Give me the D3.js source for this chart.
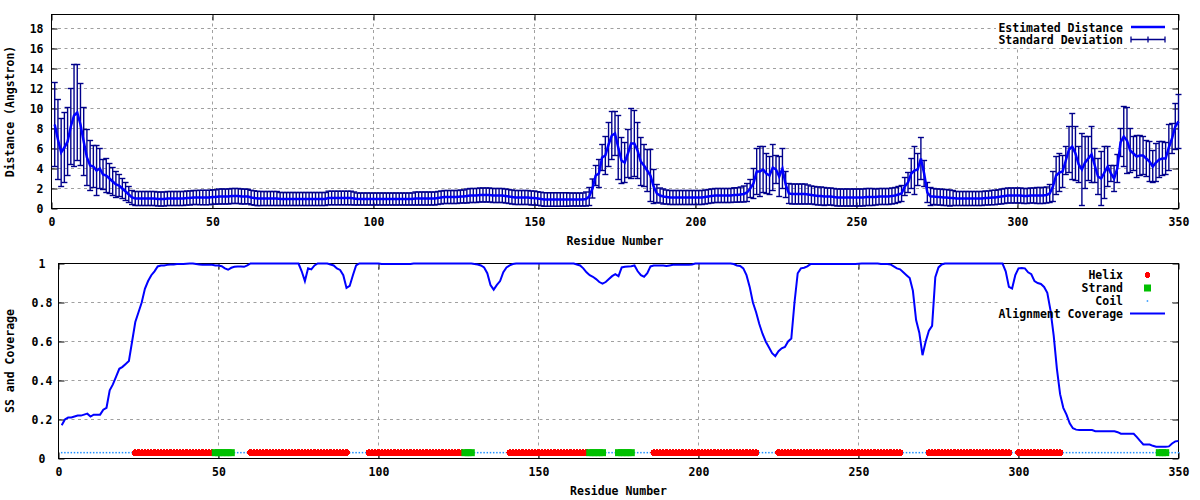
<!DOCTYPE html>
<html><head><meta charset="utf-8">
<script src="https://cdn.jsdelivr.net/npm/d3@7"></script>
<style>
body{margin:0;background:#fff}
svg text{font-family:"DejaVu Sans Mono",monospace;font-weight:bold;font-size:11.5px;fill:#000}
</style>
</head><body>
<svg id="c" width="1200" height="500"></svg>
<script>
const xTicks = [0, 50, 100, 150, 200, 250, 300, 350];
const distYTicks = [0, 2, 4, 6, 8, 10, 12, 14, 16, 18];
const covYTicks = [0, 0.2, 0.4, 0.6, 0.8, 1];
const covYTickLabels = ["0", "0.2", "0.4", "0.6", "0.8", "1"];
const xTitle = "Residue Number";
const distTitle = "Distance (Angstron)";
const covTitle = "SS and Coverage";
const topLegend = ["Estimated Distance", "Standard Deviation"];
const bottomLegend = ["Helix", "Strand", "Coil", "Alignment Coverage"];

// estimated distance per residue 1..350
const distance = [
8.4,6.9,5.6,6.1,6.7,8.2,9.3,9.6,8.4,6.7,
5.1,4.3,4.2,3.8,4.0,3.4,3.3,3.0,2.7,2.4,
2.3,2.0,1.7,1.4,1.1,1.0,1.0,1.0,1.0,1.0,
1.0,1.0,0.95,0.95,0.95,1.0,1.0,1.0,1.0,1.0,
1.0,1.05,1.05,1.1,1.1,1.1,1.1,1.1,1.1,1.15,
1.15,1.2,1.2,1.2,1.2,1.25,1.25,1.25,1.2,1.2,
1.2,1.1,1.05,1.0,1.0,1.0,1.0,1.0,1.0,1.0,
0.95,0.95,0.95,0.95,0.95,0.95,0.95,0.95,0.95,0.95,
0.95,0.95,0.95,0.95,0.95,1.05,1.05,1.05,1.05,1.05,
1.05,1.05,1.05,1.0,0.95,0.95,0.95,0.95,0.95,0.95,
0.95,0.95,0.95,0.95,0.95,0.95,0.95,0.95,0.95,0.95,
0.95,0.95,1.0,1.0,1.0,1.0,1.0,1.0,1.0,1.05,
1.1,1.15,1.15,1.15,1.15,1.15,1.2,1.2,1.25,1.3,
1.3,1.3,1.35,1.35,1.35,1.35,1.3,1.3,1.3,1.3,
1.25,1.2,1.15,1.1,1.1,1.1,1.1,1.1,1.05,1.05,
1.0,0.95,0.9,0.9,0.9,0.9,0.9,0.9,0.9,0.9,
0.9,0.9,0.9,0.9,0.9,0.95,1.2,2.0,3.3,3.5,
5.1,5.3,6.4,7.3,7.5,6.1,4.8,4.6,5.5,6.5,
6.5,5.8,4.7,4.3,3.8,3.3,2.2,1.5,1.3,1.2,
1.15,1.1,1.1,1.1,1.1,1.1,1.1,1.1,1.1,1.1,
1.1,1.1,1.15,1.2,1.25,1.3,1.3,1.3,1.3,1.3,
1.3,1.35,1.35,1.4,1.45,1.6,2.0,2.5,3.7,3.7,
3.9,3.5,3.3,4.1,3.9,3.2,4.0,2.4,1.5,1.45,
1.45,1.45,1.45,1.45,1.4,1.35,1.3,1.25,1.25,1.2,
1.2,1.2,1.15,1.1,1.1,1.1,1.1,1.1,1.1,1.1,
1.1,1.1,1.15,1.15,1.15,1.15,1.2,1.2,1.2,1.2,
1.25,1.3,1.4,1.5,2.2,2.6,3.5,3.8,3.9,5.0,
3.5,1.6,1.2,1.2,1.15,1.15,1.1,1.1,1.05,1.05,
1.0,1.0,1.0,1.0,1.0,1.0,1.0,1.0,1.0,1.05,
1.05,1.1,1.1,1.15,1.2,1.25,1.3,1.3,1.3,1.3,
1.3,1.25,1.25,1.3,1.3,1.3,1.3,1.3,1.35,1.5,
2.2,3.3,3.6,3.7,4.8,5.9,6.2,5.5,4.4,3.9,
4.6,5.0,5.4,4.3,3.2,3.0,3.6,4.2,3.5,3.0,
4.0,6.6,7.2,6.8,5.8,5.5,5.2,5.3,5.3,5.0,
4.7,4.2,4.6,4.9,5.0,5.0,6.1,7.0,8.2,8.7
];

// standard deviation per residue 1..350
const stdDev = [
4.2,4.0,3.4,3.5,3.4,3.8,5.1,4.8,4.1,3.4,
2.8,2.5,2.1,2.5,2.0,1.5,1.7,1.5,1.4,1.3,
1.1,1.0,0.9,0.8,0.7,0.7,0.7,0.7,0.7,0.7,
0.7,0.7,0.7,0.7,0.7,0.7,0.7,0.7,0.7,0.7,
0.7,0.7,0.7,0.7,0.7,0.72,0.72,0.72,0.72,0.72,
0.72,0.75,0.75,0.75,0.75,0.75,0.75,0.75,0.75,0.75,
0.72,0.72,0.72,0.72,0.7,0.7,0.7,0.7,0.7,0.7,
0.65,0.65,0.65,0.65,0.65,0.65,0.65,0.65,0.65,0.65,
0.65,0.65,0.65,0.65,0.65,0.68,0.68,0.68,0.68,0.68,
0.68,0.68,0.68,0.65,0.6,0.6,0.6,0.6,0.6,0.6,
0.6,0.6,0.6,0.6,0.6,0.6,0.6,0.6,0.6,0.6,
0.6,0.6,0.65,0.65,0.65,0.65,0.65,0.65,0.65,0.65,
0.65,0.65,0.65,0.65,0.65,0.65,0.65,0.65,0.7,0.7,
0.7,0.7,0.7,0.7,0.7,0.7,0.7,0.7,0.7,0.7,
0.7,0.7,0.7,0.7,0.7,0.7,0.7,0.7,0.7,0.7,
0.68,0.68,0.68,0.68,0.68,0.68,0.68,0.68,0.68,0.68,
0.65,0.65,0.65,0.65,0.65,0.7,0.9,0.95,1.0,1.4,
1.3,1.9,2.2,2.4,2.2,3.2,2.3,2.0,2.4,3.5,
3.3,2.8,2.4,2.1,2.1,2.6,1.7,0.9,0.75,0.75,
0.7,0.7,0.7,0.7,0.7,0.7,0.7,0.7,0.7,0.7,
0.7,0.7,0.7,0.7,0.7,0.7,0.7,0.7,0.7,0.7,
0.7,0.72,0.72,0.75,0.8,0.9,0.9,1.5,2.3,2.5,
2.3,2.0,1.9,2.3,1.4,2.0,2.0,1.3,1.0,1.0,
1.0,1.0,1.0,1.0,0.95,0.9,0.9,0.9,0.9,0.9,
0.85,0.85,0.85,0.85,0.85,0.85,0.85,0.85,0.85,0.85,
0.85,0.85,0.85,0.85,0.85,0.8,0.8,0.8,0.8,0.8,
0.8,0.8,0.8,0.8,0.9,1.0,1.5,2.4,1.6,2.1,
1.3,1.0,0.9,0.8,0.8,0.8,0.8,0.8,0.8,0.75,
0.7,0.7,0.7,0.7,0.7,0.7,0.7,0.7,0.7,0.7,
0.7,0.72,0.72,0.72,0.75,0.75,0.75,0.75,0.75,0.75,
0.75,0.75,0.75,0.75,0.75,0.8,0.8,0.8,0.8,0.9,
1.5,1.9,1.9,1.6,1.4,2.3,3.3,2.7,1.8,3.6,
2.6,2.2,2.8,1.7,1.8,2.7,2.6,2.0,0.8,1.3,
1.4,1.4,3.0,3.3,2.2,1.7,2.1,2.0,1.9,1.8,
2.0,1.6,1.9,1.8,1.7,1.6,2.3,1.5,2.3,2.7
];

// alignment coverage per residue 1..350
const coverage = [
0.17,0.20,0.21,0.21,0.215,0.22,0.22,0.225,0.23,0.215,
0.225,0.225,0.225,0.25,0.26,0.35,0.38,0.42,0.46,0.47,
0.485,0.50,0.60,0.70,0.75,0.80,0.87,0.91,0.94,0.96,
0.985,0.99,0.99,0.993,0.995,0.995,0.997,0.997,0.998,0.999,
1.0,1.0,0.997,0.995,0.993,0.993,0.993,0.993,0.99,0.99,
0.986,0.975,0.968,0.978,0.983,0.985,0.985,0.983,0.99,1.0,
1.0,1.0,1.0,1.0,1.0,1.0,1.0,1.0,1.0,1.0,
1.0,1.0,1.0,1.0,1.0,0.96,0.91,0.975,0.97,0.99,
1.0,1.0,1.0,1.0,0.995,0.99,0.975,0.967,0.94,0.875,
0.885,0.94,0.99,1.0,1.0,1.0,1.0,1.0,1.0,1.0,
0.997,0.997,0.997,0.997,0.997,0.997,0.997,0.997,0.997,0.997,
1.0,1.0,1.0,1.0,1.0,1.0,1.0,1.0,1.0,1.0,
1.0,1.0,1.0,1.0,1.0,1.0,1.0,1.0,1.0,0.997,
0.995,0.99,0.98,0.95,0.89,0.866,0.89,0.91,0.955,0.98,
0.99,0.997,1.0,1.0,1.0,1.0,1.0,1.0,1.0,1.0,
1.0,1.0,1.0,1.0,1.0,1.0,1.0,1.0,1.0,1.0,
1.0,0.995,0.99,0.975,0.955,0.94,0.932,0.92,0.905,0.897,
0.905,0.92,0.935,0.945,0.935,0.98,0.983,0.985,0.986,0.99,
0.96,0.94,0.932,0.95,0.985,0.99,0.99,0.99,0.99,0.987,
0.99,0.993,0.993,0.993,0.993,0.993,0.993,0.995,1.0,1.0,
1.0,1.0,1.0,1.0,1.0,1.0,1.0,1.0,1.0,1.0,
0.997,0.99,0.987,0.975,0.94,0.88,0.80,0.75,0.69,0.64,
0.60,0.57,0.54,0.525,0.55,0.565,0.572,0.60,0.615,0.80,
0.95,0.975,0.978,0.985,0.997,0.997,0.997,0.997,0.997,0.997,
0.997,0.997,0.997,0.997,0.997,0.997,0.997,0.997,0.998,0.999,
1.0,1.0,1.0,1.0,1.0,1.0,0.997,0.997,0.997,0.995,
0.985,0.975,0.97,0.955,0.94,0.925,0.86,0.71,0.645,0.53,
0.60,0.655,0.68,0.93,0.98,0.995,1.0,1.0,1.0,1.0,
1.0,1.0,1.0,1.0,1.0,1.0,1.0,1.0,1.0,1.0,
1.0,1.0,1.0,1.0,1.0,0.96,0.88,0.872,0.94,0.975,
0.977,0.975,0.955,0.945,0.91,0.90,0.895,0.88,0.85,0.76,
0.63,0.46,0.33,0.26,0.225,0.18,0.155,0.148,0.146,0.146,
0.146,0.146,0.146,0.14,0.14,0.14,0.14,0.14,0.14,0.14,
0.135,0.127,0.127,0.127,0.127,0.127,0.11,0.09,0.072,0.072,
0.072,0.065,0.06,0.06,0.06,0.06,0.062,0.077,0.088,0.09
];

// secondary structure (residue ranges); all other residues are coil
const helixRanges = [[24,48],[60,90],[97,126],[141,165],[186,218],[225,263],[272,297],[300,313]];
const strandRanges = [[49,54],[127,129],[166,170],[175,179],[344,346]];
const ssLevel = 0.03;

const C = {line:"#0000ff", err:"#00008b", grid:"#a0a0a0", helix:"#ff0000", strand:"#00c000", coil:"#1e90ff"};

const svg = d3.select("#c");
const nRes = distance.length;
const residues = d3.range(1, nRes + 1);
const ssOf = r => {
  if (strandRanges.some(([a,b]) => r >= a && r <= b)) return "E";
  if (helixRanges.some(([a,b]) => r >= a && r <= b)) return "H";
  return "C";
};

function frame(x, y, yTicks, yLabelFn, yAnchor, yLabelX, title, titleY, ytitle, ytitleY) {
  const [x0, x1] = x.range();
  const [y0, y1] = y.range();
  const g = svg.append("g");
  g.selectAll(".gx").data(xTicks.filter(t => t > x.domain()[0] && t < x.domain()[1])).join("line")
    .attr("x1", d => x(d)).attr("x2", d => x(d)).attr("y1", y0).attr("y2", y1)
    .attr("stroke", C.grid).attr("stroke-dasharray", "3,3.5");
  g.selectAll(".gy").data(yTicks.filter(t => t > y.domain()[0] && t < y.domain()[1])).join("line")
    .attr("x1", x0).attr("x2", x1).attr("y1", d => y(d)).attr("y2", d => y(d))
    .attr("stroke", C.grid).attr("stroke-dasharray", "3,3.5");
  const ax = svg.append("g").attr("transform", `translate(0,${y0})`)
    .call(d3.axisBottom(x).tickValues(xTicks).tickSize(-6).tickSizeOuter(0).tickPadding(9));
  const axTop = svg.append("g").attr("transform", `translate(0,${y1})`)
    .call(d3.axisTop(x).tickValues(xTicks).tickSize(-6).tickSizeOuter(0).tickFormat(""));
  const ay = svg.append("g").attr("transform", `translate(${x0},0)`)
    .call(d3.axisLeft(y).tickValues(yTicks).tickSize(-6).tickSizeOuter(0).tickFormat(yLabelFn).tickPadding(8));
  ay.selectAll("text").attr("text-anchor", yAnchor).attr("x", yLabelX - x0);
  const ayR = svg.append("g").attr("transform", `translate(${x1},0)`)
    .call(d3.axisRight(y).tickValues(yTicks).tickSize(-6).tickSizeOuter(0).tickFormat(""));
  [ax, axTop, ay, ayR].forEach(a => {
    a.select(".domain").remove();
    a.selectAll("line").attr("stroke", "#000");
    a.selectAll("text").attr("font-family", null).attr("font-size", null).style("fill", "#000");
  });
  svg.append("rect").attr("x", x0).attr("y", y1).attr("width", x1 - x0).attr("height", y0 - y1)
    .attr("fill", "none").attr("stroke", "#000");
  svg.append("text").attr("x", (x0 + x1) / 2).attr("y", titleY).attr("text-anchor", "middle").text(title);
  svg.append("text").attr("transform", `translate(14,${ytitleY}) rotate(-90)`).attr("text-anchor", "middle").text(ytitle);
}

// ---------- top panel ----------
const xT = d3.scaleLinear().domain([0, 350]).range([51.5, 1178.5]);
const yT = d3.scaleLinear().domain([0, 19.4]).range([208.5, 14.5]);
frame(xT, yT, distYTicks, d => String(d), "end", 43.5, xTitle, 244.5, distTitle, 111.5);

svg.append("rect").attr("x", 996).attr("y", 15).attr("width", 176).attr("height", 31).attr("fill", "#fff");

const errG = svg.append("g").attr("stroke", C.err).attr("stroke-width", 1.4);
errG.selectAll(".v").data(residues).join("line")
  .attr("x1", r => xT(r)).attr("x2", r => xT(r))
  .attr("y1", r => yT(distance[r-1] - stdDev[r-1])).attr("y2", r => yT(distance[r-1] + stdDev[r-1]));
errG.selectAll(".t").data(residues).join("line")
  .attr("x1", r => xT(r) - 3).attr("x2", r => xT(r) + 3)
  .attr("y1", r => yT(distance[r-1] + stdDev[r-1])).attr("y2", r => yT(distance[r-1] + stdDev[r-1]));
errG.selectAll(".b").data(residues).join("line")
  .attr("x1", r => xT(r) - 3).attr("x2", r => xT(r) + 3)
  .attr("y1", r => yT(Math.max(0, distance[r-1] - stdDev[r-1]))).attr("y2", r => yT(Math.max(0, distance[r-1] - stdDev[r-1])));

svg.append("path").datum(residues)
  .attr("d", d3.line().x(r => xT(r)).y(r => yT(distance[r-1])))
  .attr("fill", "none").attr("stroke", C.line).attr("stroke-width", 2.5);

svg.append("text").attr("x", 1123).attr("y", 27.5).attr("dy", "0.35em").attr("text-anchor", "end").text(topLegend[0]);
svg.append("line").attr("x1", 1131).attr("x2", 1165).attr("y1", 27).attr("y2", 27).attr("stroke", C.line).attr("stroke-width", 2.5);
svg.append("text").attr("x", 1123).attr("y", 40).attr("dy", "0.35em").attr("text-anchor", "end").text(topLegend[1]);
const lg = svg.append("g").attr("stroke", C.err).attr("stroke-width", 1.3);
lg.append("line").attr("x1", 1131).attr("x2", 1165).attr("y1", 39.5).attr("y2", 39.5);
[1131, 1148, 1165].forEach(px => lg.append("line").attr("x1", px).attr("x2", px).attr("y1", 36.5).attr("y2", 42.5));

// ---------- bottom panel ----------
const xB = d3.scaleLinear().domain([0, 350]).range([58.5, 1178.5]);
const yB = d3.scaleLinear().domain([0, 1]).range([458.5, 263.5]);
frame(xB, yB, covYTicks, (d, i) => covYTickLabels[i], "middle", 42, xTitle, 494.5, covTitle, 361);

svg.append("rect").attr("x", 998).attr("y", 264).attr("width", 174).attr("height", 56).attr("fill", "#fff");

const coilRes = residues.filter(r => ssOf(r) === "C");
const helixRes = residues.filter(r => ssOf(r) === "H");
const strandRes = residues.filter(r => ssOf(r) === "E");
svg.append("g").selectAll("rect").data(coilRes).join("rect")
  .attr("x", r => xB(r) - 0.75).attr("y", yB(ssLevel) - 0.75).attr("width", 1.5).attr("height", 1.5).attr("fill", C.coil);
svg.append("g").attr("shape-rendering", "crispEdges").selectAll("circle").data(helixRes).join("circle")
  .attr("cx", r => xB(r)).attr("cy", yB(ssLevel)).attr("r", 3.3).attr("fill", C.helix);
svg.append("g").selectAll("rect").data(strandRes).join("rect")
  .attr("x", r => xB(r) - 3.5).attr("y", yB(ssLevel) - 3.5).attr("width", 7).attr("height", 7).attr("fill", C.strand);

svg.append("path").datum(residues)
  .attr("d", d3.line().x(r => xB(r)).y(r => yB(coverage[r-1])))
  .attr("fill", "none").attr("stroke", C.line).attr("stroke-width", 2);

const bl = [275, 288, 301, 313.5];
bottomLegend.forEach((t, i) => svg.append("text").attr("x", 1123).attr("y", bl[i]).attr("dy", "0.35em").attr("text-anchor", "end").text(t));
svg.append("circle").attr("cx", 1147.5).attr("cy", bl[0]).attr("r", 3).attr("fill", C.helix).attr("shape-rendering", "crispEdges");
svg.append("rect").attr("x", 1144).attr("y", bl[1] - 3.5).attr("width", 7).attr("height", 7).attr("fill", C.strand);
svg.append("rect").attr("x", 1146.7).attr("y", bl[2] - 0.75).attr("width", 1.5).attr("height", 1.5).attr("fill", C.coil);
svg.append("line").attr("x1", 1130).attr("x2", 1165).attr("y1", bl[3]).attr("y2", bl[3]).attr("stroke", C.line).attr("stroke-width", 2);
</script>
</body></html>
